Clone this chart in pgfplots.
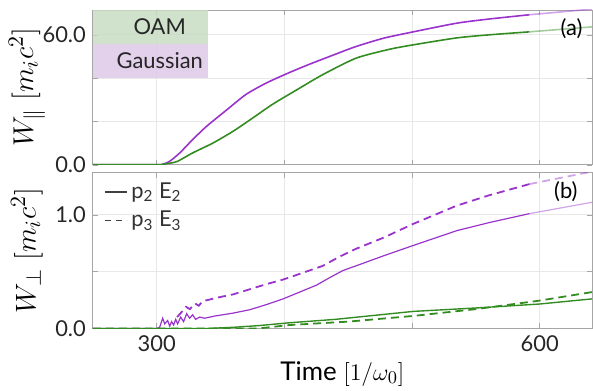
\documentclass[border=0pt]{standalone}
\usepackage{fontspec}
\setmainfont{Lato}
\usepackage{pgfplots}
\pgfplotsset{compat=1.18}
\usetikzlibrary{calc}
\definecolor{cpur}{RGB}{153,51,204}
\definecolor{cgrn}{RGB}{51,140,34}
\definecolor{lgrn}{RGB}{200,220,195}
\definecolor{lpur}{RGB}{222,200,232}
\begin{document}
\begin{tikzpicture}
\pgfplotsset{
  every axis/.append style={
    scale only axis, width=250bp,
    xmin=250, xmax=641,
    axis line style={gray!70},
    grid=major, grid style={gray!18, line width=0.4pt},
    major tick length=2.5bp,
    tick style={gray!70},
    tick align=inside,
    xtick={300,400,500,600},
    /pgf/number format/assume math mode=true,
    ticklabel style={font=\fontsize{11}{13}\selectfont, text=black!85},
    ylabel style={font=\fontsize{15}{17}\selectfont, anchor=center, at={(rel axis cs:0,0.5)}, yshift=33bp},
    clip=true,
  },
}
\begin{axis}[name=top, height=77.5bp,
  ymin=0, ymax=71.5,
  ytick={0,20,40,60}, yticklabels={0.0,,,60.0},
  xticklabels={,,,},
  ylabel={$W_{\|}\;[m_i c^2]$},
]
\fill[lgrn, opacity=0.85] (rel axis cs:0,1) rectangle (rel axis cs:0.23,0.781);
\fill[lpur, opacity=0.85] (rel axis cs:0,0.781) rectangle (rel axis cs:0.23,0.561);
\node[font=\fontsize{11}{13}\selectfont, text=black!85] at (rel axis cs:0.134,0.89) {OAM};
\node[font=\fontsize{11}{13}\selectfont, text=black!85] at (rel axis cs:0.134,0.671) {Gaussian};
\addplot[cpur, line width=0.8pt, smooth, tension=0.4] coordinates {
(250,0) (300,0) (305,0.3) (310,1.5) (318,5.4) (328,11.5) (339,17.7) (355,25.4) (370,32.5) (386,37.8) (404,42.6) (420,46.5) (438,50.6) (456,54.6) (478,58.5) (501,61.4) (535,65.4) (560,67.3) (592,69.3)};
\addplot[cpur, line width=0.8pt, opacity=0.45] coordinates {(592,69.3) (641,71.9)};
\addplot[cgrn, line width=0.8pt, smooth, tension=0.4] coordinates {
(250,0) (300,0) (308,0.5) (316,1.5) (328,5.4) (344,10) (360,15.5) (375,21.5) (391,28) (412,35.4) (430,41.6) (456,49.2) (482,53.3) (501,55.4) (535,58.6) (560,60) (592,61.4)};
\addplot[cgrn, line width=0.8pt, opacity=0.45] coordinates {(592,61.4) (641,63.7)};
\node[font=\fontsize{11}{13}\selectfont, anchor=east] at (rel axis cs:0.995,0.88) {(a)};
\end{axis}
\begin{axis}[name=bot, at={($(top.south west)+(0,-4bp)$)}, anchor=north west, height=78bp,
  ymin=0, ymax=1.37,
  ytick={0,0.5,1.0}, yticklabels={0.0,,1.0},
  xticklabels={300,,,600},
  ylabel={$W_{\perp}\;[m_i c^2]$},
  xlabel={Time $[1/\omega_0]$},
  xlabel style={font=\fontsize{13}{15}\selectfont, yshift=2bp},
  legend style={at={(rel axis cs:0.01,0.99)}, anchor=north west, draw=none, fill=none,
    font=\fontsize{11}{13}\selectfont, text=black!80, row sep=1bp,
    legend cell align=left},
  legend image code/.code={\draw[#1] (0bp,0bp)--(11bp,0bp);},
]
\addlegendimage{black!75, line width=0.6pt}
\addlegendentry{p\textsubscript{2} E\textsubscript{2}}
\addlegendimage{black!75, line width=0.6pt, dash pattern=on 3bp off 2.5bp}
\addlegendentry{p\textsubscript{3} E\textsubscript{3}}
\addplot[cpur, line width=0.6pt, forget plot] coordinates {
(250,0) (300,0) (302.3,0.01) (304.7,0.09) (306.3,0.04) (308.6,0.07) (310.2,0.02) (311.7,0.06) (313.3,0.03) (314.9,0.08) (316.4,0.04) (318.8,0.10) (321.1,0.06) (323.5,0.13) (325.8,0.09) (328.2,0.12) (330.5,0.08) (333.7,0.10) (337.6,0.09) (346,0.11) (360,0.135) (373,0.165) (386,0.21) (399,0.26) (412,0.32) (425,0.38) (436,0.45) (446,0.51) (456,0.55) (478,0.64) (501,0.73) (535,0.86) (560,0.93) (592,1.01)};
\addplot[cpur, line width=0.6pt, opacity=0.45, forget plot] coordinates {(592,1.01) (641,1.11)};
\addplot[cpur, line width=0.9pt, dash pattern=on 4bp off 2.5bp, forget plot] coordinates {
(316,0.10) (320,0.15) (323,0.19) (326,0.17) (330,0.22) (333,0.20) (336,0.24) (340,0.25) (347,0.27) (360,0.30) (373,0.345) (386,0.39) (399,0.43) (412,0.48) (430,0.55) (443,0.63) (456,0.70) (478,0.80) (501,0.92) (535,1.08) (560,1.17) (592,1.27)};
\addplot[cpur, line width=0.9pt, dash pattern=on 4bp off 2.5bp, opacity=0.45, forget plot] coordinates {(592,1.27) (641,1.38)};
\addplot[cgrn, line width=0.7pt, forget plot] coordinates {
(250,0) (340,0) (360,0.01) (380,0.025) (404,0.05) (440,0.08) (501,0.15) (550,0.18) (600,0.215) (641,0.26)};
\addplot[cgrn, line width=0.9pt, dash pattern=on 4bp off 2.5bp, forget plot] coordinates {
(250,0) (380,0) (404,0.03) (450,0.06) (501,0.11) (550,0.17) (600,0.245) (641,0.32)};
\node[font=\fontsize{11}{13}\selectfont, anchor=east] at (rel axis cs:0.985,0.88) {(b)};
\end{axis}
\pgfresetboundingbox
\useasboundingbox ($(top.north west)+(-46.5bp,5bp)$) rectangle ($(bot.south east)+(0.5bp,-31bp)$);
\end{tikzpicture}
\end{document}
